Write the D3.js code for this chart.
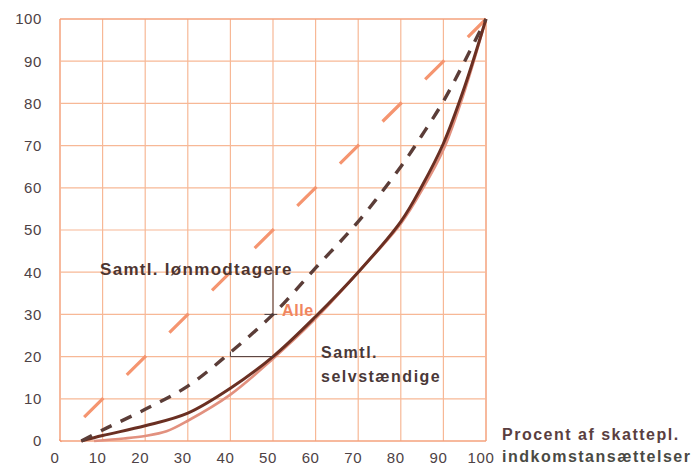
<!DOCTYPE html>
<html><head><meta charset="utf-8">
<script src="https://cdn.jsdelivr.net/npm/d3@7"></script>
<style>
html,body{margin:0;padding:0;background:#fff;}
svg{display:block;}
text{font-family:"Liberation Sans",Arial,Helvetica,sans-serif;}
</style></head>
<body>
<svg id="c" width="699" height="465"></svg>
<script>
// ---- data ----
const xTicks = [0,10,20,30,40,50,60,70,80,90,100];
const yTicks = [0,10,20,30,40,50,60,70,80,90,100];
const diagX = [0,100];
const diagY = [0,100];
// Samtl. lønmodtagere (dashed)
const lonX = [5,10,20,30,40,50,60,70,80,85,90,95,100];
const lonY = [0,2.6,7.5,13,21,30,41,52,65,72.5,80.5,90,100];
// Samtl. selvstændige (dark solid)
const selvX = [5,10,20,30,40,50,60,70,80,85,90,95,100];
const selvY = [0,1.3,3.6,6.6,12.5,20,29.5,40,52,60.5,70.5,84,100];
// Alle (light solid)
const alleX = [8,15,20,25,30,40,50,60,70,80,85,90,95,100];
const alleY = [0,0.6,1.2,2.3,4.8,11,19.5,29,40,51.5,59.5,69,83,100];
const labels = {
  lon: "Samtl. lønmodtagere",
  alle: "Alle",
  selv1: "Samtl.",
  selv2: "selvstændige",
  xt1: "Procent af skattepl.",
  xt2: "indkomstansættelser"
};

const svg = d3.select("#c");
const x = d3.scaleLinear().domain([0,100]).range([60,486]);
const y = d3.scaleLinear().domain([0,100]).range([441,19]);

const gridCol = "#f7b896";
// grid
const g = svg.append("g");
g.selectAll("line.v").data(xTicks).join("line")
  .attr("x1",d=>x(d)).attr("x2",d=>x(d)).attr("y1",y(0)).attr("y2",y(100))
  .attr("stroke",d=> (d===0||d===100)? "#f4a27c":gridCol).attr("stroke-width",d=>(d===0||d===100)?1.5:1.2);
g.selectAll("line.h").data(yTicks).join("line")
  .attr("y1",d=>y(d)).attr("y2",d=>y(d)).attr("x1",x(0)).attr("x2",x(100))
  .attr("stroke",d=> (d===0||d===100)? "#f4a27c":gridCol).attr("stroke-width",d=>(d===0||d===100)?1.5:1.2);

// tick labels
const tickCol = "#4d4245";
svg.append("g").selectAll("text").data(yTicks).join("text")
  .attr("x",42).attr("y",d=>y(d)).attr("dy","0.36em")
  .attr("text-anchor","end").attr("font-size",15).attr("letter-spacing",0.6)
  .attr("fill",tickCol).text(d=>d);
svg.append("g").selectAll("text").data(xTicks).join("text")
  .attr("x",d=>x(d)-5).attr("y",463)
  .attr("text-anchor","middle").attr("font-size",15).attr("letter-spacing",0.6)
  .attr("fill",tickCol).text(d=>d);

const line = d3.line().x(d=>x(d[0])).y(d=>y(d[1])).curve(d3.curveCatmullRom.alpha(0.5));
const zip = (a,b)=>a.map((v,i)=>[v,b[i]]);

// diagonal
svg.append("path").datum(zip(diagX,diagY)).attr("d",d3.line().x(d=>x(d[0])).y(d=>y(d[1])))
  .attr("fill","none").attr("stroke","#f59570").attr("stroke-width",3.2)
  .attr("stroke-dasharray","27 33").attr("stroke-dashoffset",26);

// Alle (light)
svg.append("path").datum(zip(alleX,alleY)).attr("d",line)
  .attr("fill","none").attr("stroke","#e2917f").attr("stroke-width",2.6);
// selvstændige (dark)
svg.append("path").datum(zip(selvX,selvY)).attr("d",line)
  .attr("fill","none").attr("stroke","#6a2f22").attr("stroke-width",3);
// lønmodtagere (dashed)
svg.append("path").datum(zip(lonX,lonY)).attr("d",line)
  .attr("fill","none").attr("stroke","#5b3d38").attr("stroke-width",3.4)
  .attr("stroke-dasharray","12 10");

// leader lines
const lead = svg.append("g").attr("stroke","#4a3c3c").attr("stroke-width",1).attr("fill","none");
lead.append("line").attr("x1",x(50)).attr("x2",x(50)).attr("y1",y(40.5)).attr("y2",y(30));
lead.append("line").attr("x1",x(48)).attr("x2",x(51)).attr("y1",y(30)).attr("y2",y(30));
lead.append("line").attr("x1",x(40)).attr("x2",x(50)).attr("y1",y(20)).attr("y2",y(20));
lead.append("line").attr("x1",x(40)).attr("x2",x(40)).attr("y1",y(20)).attr("y2",y(21.2));

// labels
const lab = svg.append("g").attr("font-weight","bold");
lab.append("text").attr("x",100).attr("y",275).attr("font-size",17).attr("letter-spacing",1.3)
  .attr("fill","#4d3530").text(labels.lon);
lab.append("text").attr("x",282).attr("y",316).attr("font-size",16).attr("letter-spacing",0.6)
  .attr("fill","#f08660").text(labels.alle);
lab.append("text").attr("x",321).attr("y",358).attr("font-size",16).attr("letter-spacing",1.5)
  .attr("fill","#4a3838").text(labels.selv1);
lab.append("text").attr("x",321).attr("y",382).attr("font-size",16).attr("letter-spacing",1.5)
  .attr("fill","#4a3838").text(labels.selv2);
lab.append("text").attr("x",502).attr("y",440).attr("font-size",16).attr("letter-spacing",1.5)
  .attr("fill","#5a3e40").text(labels.xt1);
lab.append("text").attr("x",502).attr("y",462).attr("font-size",16).attr("letter-spacing",1.5)
  .attr("fill","#4a4a44").text(labels.xt2);
</script>
</body></html>
